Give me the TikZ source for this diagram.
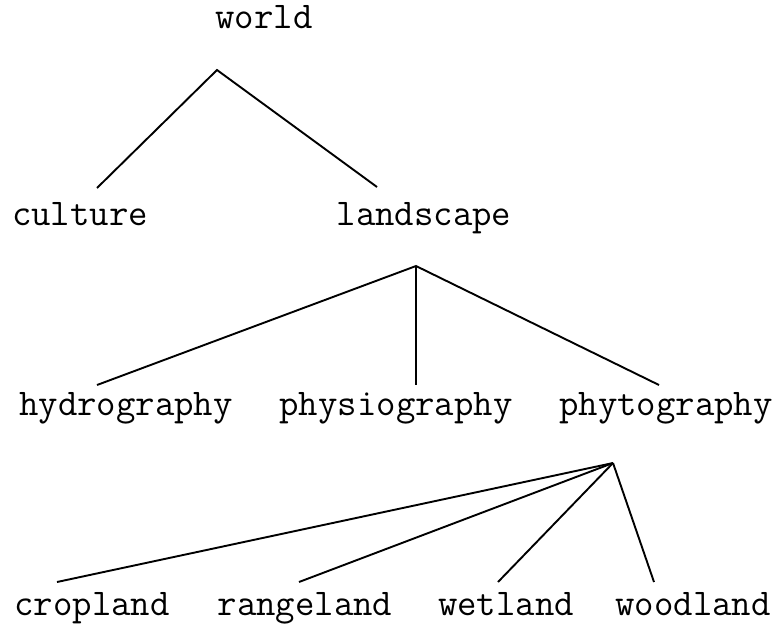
\documentclass[tikz,border=0pt]{standalone}
\usepackage{fontspec}
\usetikzlibrary{calc}

\begin{document}
\begin{tikzpicture}[x=1pt,y=-1pt,
		term/.style={font=\ttfamily\fontsize{37.7}{38}\selectfont, anchor=base, inner sep=0pt},
		branch/.style={line width=1.9pt}]
	\useasboundingbox (0,0) rectangle (778,624);
	% Level 0
	\node[term] (world) at (264,28) {world};
	% Level 1
	\node[term] (culture) at (80,225) {culture};
	\node[term] (landscape) at (424,225) {landscape};
	% Level 2
	\node[term] (hydrography) at (126,415) {hydrography};
	\node[term] (physiography) at (396,415) {physiography};
	\node[term] (phytography) at (666,415) {phytography};
	% Level 3
	\node[term] (cropland) at (92,615) {cropland};
	\node[term] (rangeland) at (305,615) {rangeland};
	\node[term] (wetland) at (506,615) {wetland};
	\node[term] (woodland) at (693,615) {woodland};
	% Fork and leaf ends of the branches
	\coordinate (world-fork) at (217,70);
	\coordinate (culture-top) at (97,188);
	\coordinate (landscape-top) at (377,187);
	\coordinate (landscape-fork) at (416,266);
	\coordinate (hydrography-top) at (97,385);
	\coordinate (physiography-top) at (416,385);
	\coordinate (phytography-top) at (659,385);
	\coordinate (phytography-fork) at (613,463);
	\coordinate (cropland-top) at (57,582);
	\coordinate (rangeland-top) at (299,582);
	\coordinate (wetland-top) at (498,582);
	\coordinate (woodland-top) at (654,582);
	% Branches
	\draw[branch] (culture-top) -- (world-fork) -- (landscape-top);
	\draw[branch] (hydrography-top) -- (landscape-fork) -- (phytography-top);
	\draw[branch] (landscape-fork) -- (physiography-top);
	\foreach \leaf in {cropland,rangeland,wetland,woodland}
		\draw[branch] (phytography-fork) -- (\leaf-top);
\end{tikzpicture}
\end{document}
